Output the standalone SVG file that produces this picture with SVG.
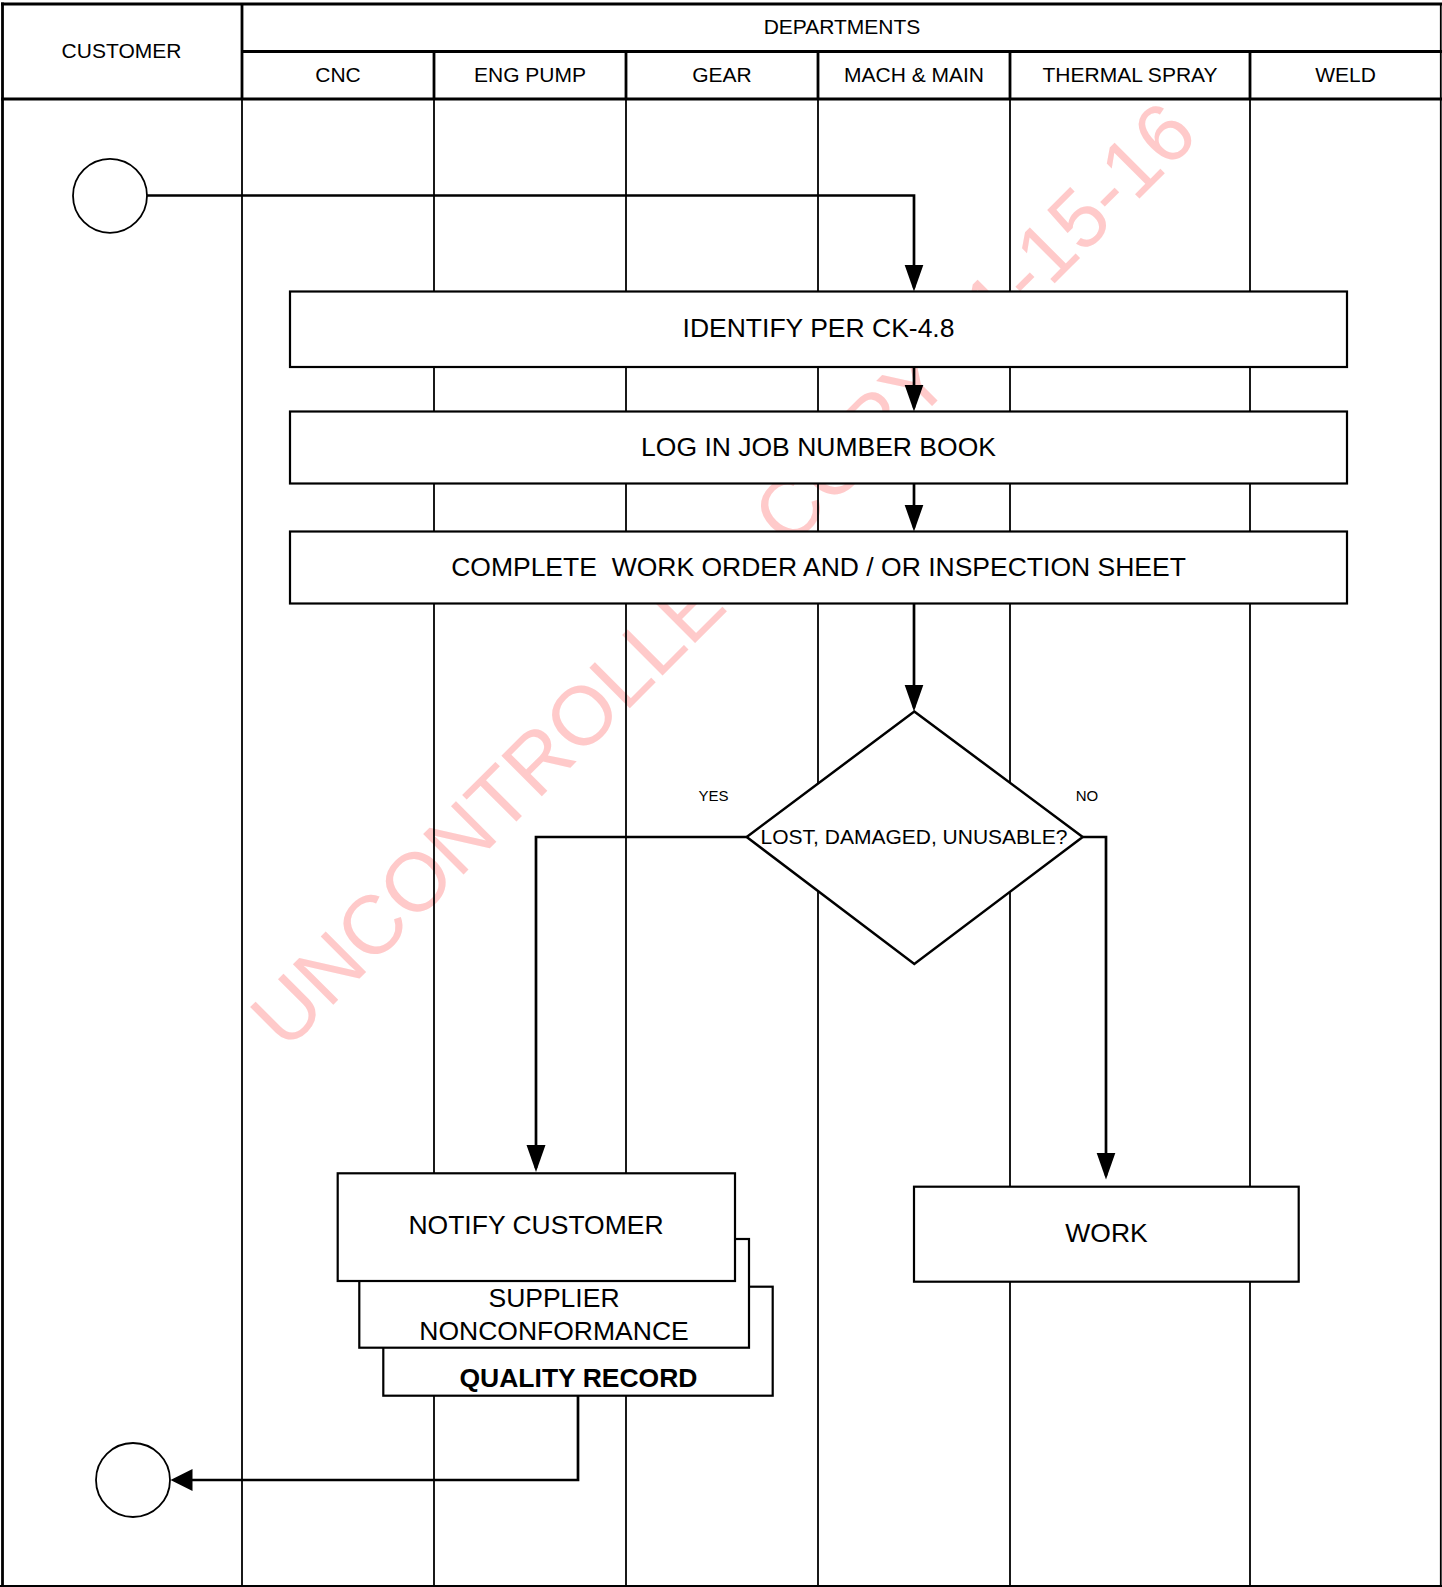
<svg xmlns="http://www.w3.org/2000/svg" width="1442" height="1587" viewBox="0 0 1442 1587">
<defs>
<style>
.bg{fill:#fff}
.lane{stroke:#000;stroke-width:1.8;fill:none}
.hdr{stroke:#000;stroke-width:2.8;fill:none}
.box{fill:#fff;stroke:#000;stroke-width:2.2}
.dec{fill:#fff;stroke:#000;stroke-width:2.5}
.term{fill:#fff;stroke:#000;stroke-width:1.8}
.conn{stroke:#000;stroke-width:2.7;fill:none}
.t{font-family:"Liberation Sans",Arial,sans-serif;fill:#000;text-anchor:middle}
.h{font-size:21px}
.b{font-size:26.5px}
.s{font-size:15px}
.wm{font-family:"Liberation Sans",Arial,sans-serif;font-size:83px;fill:#ffcaca}
</style>
<marker id="arr" markerUnits="userSpaceOnUse" markerWidth="28" markerHeight="20" refX="23" refY="9.5" orient="auto"><path d="M0,0 L27,9.5 L0,19 z" fill="#000"/></marker>
<marker id="arr2" markerUnits="userSpaceOnUse" markerWidth="23" markerHeight="23" refX="18" refY="11" orient="auto"><path d="M0,0 L22,11 L0,22 z" fill="#000"/></marker>
</defs>
<rect class="bg" x="0" y="0" width="1442" height="1587"/>
<g id="watermark">
<text class="wm" x="286" y="1052" transform="rotate(-45 286 1052)">UNCONTROLLED COPY 11-15-16</text>
</g>
<g id="lanes">
<line class="lane" x1="434" y1="99" x2="434" y2="1587"/>
<line class="lane" x1="626" y1="99" x2="626" y2="1587"/>
<line class="lane" x1="818" y1="99" x2="818" y2="1587"/>
<line class="lane" x1="1010" y1="99" x2="1010" y2="1587"/>
<line class="lane" x1="1250" y1="99" x2="1250" y2="1587"/>
<line class="lane" x1="242" y1="99" x2="242" y2="1587"/>
<line class="lane" x1="1440.8" y1="4" x2="1440.8" y2="1587"/>
<line class="lane" x1="0" y1="1586" x2="1442" y2="1586"/>
<line class="hdr" x1="2.5" y1="2.5" x2="2.5" y2="1587"/>
</g>
<g id="header">
<line class="hdr" x1="1" y1="4" x2="1442" y2="4"/>
<line class="hdr" x1="242" y1="51.5" x2="1442" y2="51.5"/>
<line class="hdr" x1="1" y1="99" x2="1442" y2="99"/>
<line class="hdr" x1="242" y1="4" x2="242" y2="99"/>
<line class="hdr" x1="434" y1="51.5" x2="434" y2="99"/>
<line class="hdr" x1="626" y1="51.5" x2="626" y2="99"/>
<line class="hdr" x1="818" y1="51.5" x2="818" y2="99"/>
<line class="hdr" x1="1010" y1="51.5" x2="1010" y2="99"/>
<line class="hdr" x1="1250" y1="51.5" x2="1250" y2="99"/>
<text class="t h" x="121.5" y="58.3">CUSTOMER</text>
<text class="t h" x="842" y="33.5">DEPARTMENTS</text>
<text class="t h" x="338" y="82">CNC</text>
<text class="t h" x="530" y="82">ENG PUMP</text>
<text class="t h" x="722" y="82">GEAR</text>
<text class="t h" x="914" y="82">MACH &amp; MAIN</text>
<text class="t h" x="1130" y="82">THERMAL SPRAY</text>
<text class="t h" x="1345.5" y="82">WELD</text>
</g>
<g id="connectors">
<path class="conn" d="M147,195.5 H914 V287.5" marker-end="url(#arr)"/>
<path class="conn" d="M914,363 V407.5" marker-end="url(#arr)"/>
<path class="conn" d="M914,483.5 V527.5" marker-end="url(#arr)"/>
<path class="conn" d="M914,603.5 V707.5" marker-end="url(#arr)"/>
<path class="conn" d="M746.7,837 H536 V1168" marker-end="url(#arr)"/>
<path class="conn" d="M1082.7,837 H1106 V1175.5" marker-end="url(#arr)"/>
<path class="conn" d="M578,1395.5 V1480 H174.5" marker-end="url(#arr2)"/>
</g>
<g id="start">
<circle class="term" cx="110" cy="195.8" r="37"/>
</g>
<g id="identify">
<rect class="box" x="290" y="291.5" width="1057" height="75.5"/>
<text class="t b" x="818.5" y="337.3">IDENTIFY PER CK-4.8</text>
</g>
<g id="log">
<rect class="box" x="290" y="411.5" width="1057" height="72"/>
<text class="t b" x="818.5" y="456">LOG IN JOB NUMBER BOOK</text>
</g>
<g id="complete">
<rect class="box" x="290" y="531.5" width="1057" height="72"/>
<text class="t b" x="818.5" y="576.3" xml:space="preserve">COMPLETE  WORK ORDER AND / OR INSPECTION SHEET</text>
</g>
<g id="decision">
<polygon class="dec" points="914.3,711.5 1082.7,837 914.3,964 746.7,837"/>
<text class="t h" x="914" y="844">LOST, DAMAGED, UNUSABLE?</text>
</g>
<g id="yes-label"><text class="t s" x="713.5" y="801">YES</text></g>
<g id="no-label"><text class="t s" x="1087" y="801">NO</text></g>
<g id="quality-record">
<rect class="box" x="383.3" y="1286.7" width="389.4" height="109"/>
<text class="t b" x="578.5" y="1386.7" font-weight="bold">QUALITY RECORD</text>
</g>
<g id="supplier-nc">
<rect class="box" x="359.3" y="1239" width="389.7" height="108.7"/>
<text class="t b" x="554" y="1307.3">SUPPLIER</text>
<text class="t b" x="554" y="1340">NONCONFORMANCE</text>
</g>
<g id="notify">
<rect class="box" x="337.7" y="1173.3" width="397.3" height="107.7"/>
<text class="t b" x="536" y="1234.3">NOTIFY CUSTOMER</text>
</g>
<g id="work">
<rect class="box" x="914" y="1186.7" width="384.7" height="95"/>
<text class="t b" x="1106.5" y="1241.7">WORK</text>
</g>
<g id="end">
<circle class="term" cx="133" cy="1480" r="37"/>
</g>
</svg>
